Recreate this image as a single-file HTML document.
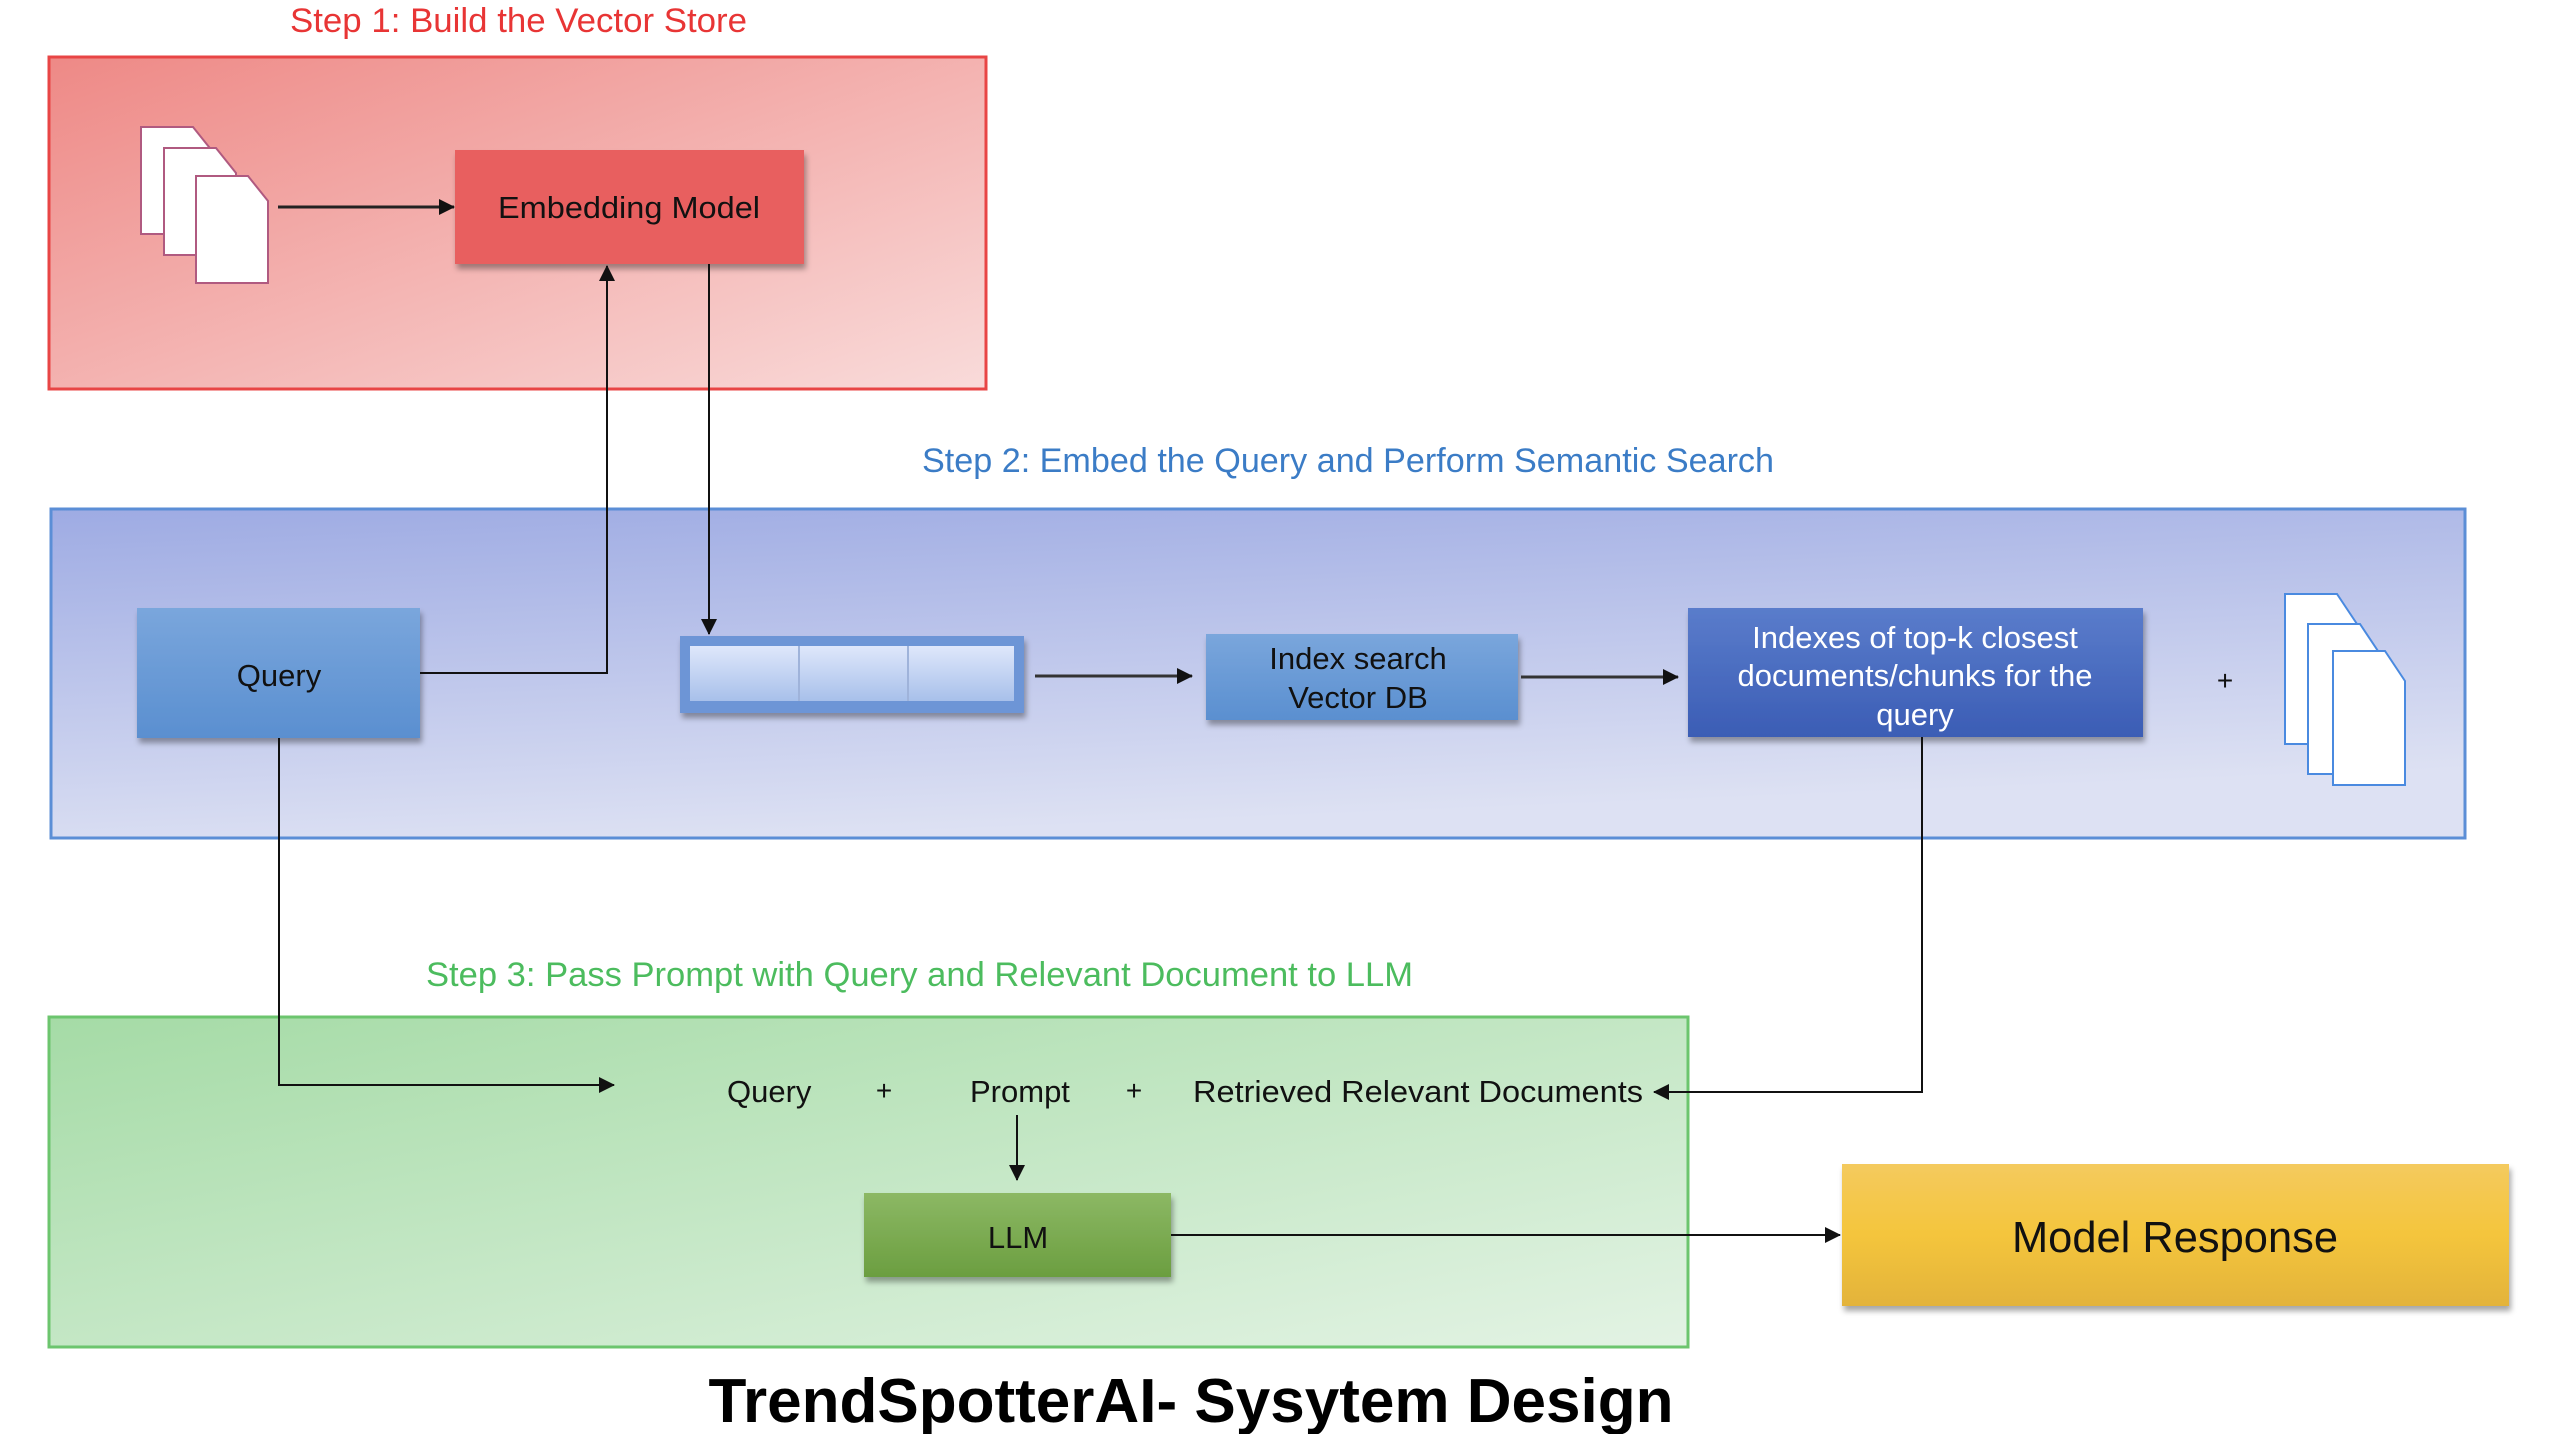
<!DOCTYPE html>
<html><head><meta charset="utf-8"><style>
html,body{margin:0;padding:0;background:#fff;}
svg{display:block;}
text{font-family:"Liberation Sans",sans-serif;}
</style></head><body>
<svg width="2560" height="1434" viewBox="0 0 2560 1434" xmlns="http://www.w3.org/2000/svg">
<defs>
<linearGradient id="gr" x1="0" y1="0" x2="1" y2="1"><stop offset="0" stop-color="#ee8986"/><stop offset="1" stop-color="#f9dbda"/></linearGradient>
<linearGradient id="gb" x1="0" y1="0" x2="0.3" y2="1"><stop offset="0" stop-color="#9eabe3"/><stop offset="1" stop-color="#dde1f3"/></linearGradient>
<linearGradient id="gg" x1="0" y1="0" x2="1" y2="1"><stop offset="0" stop-color="#a5dba6"/><stop offset="1" stop-color="#e3f3e4"/></linearGradient>
<linearGradient id="bq" x1="0" y1="0" x2="0" y2="1"><stop offset="0" stop-color="#7aa6dc"/><stop offset="1" stop-color="#5a8fd0"/></linearGradient>
<linearGradient id="bi" x1="0" y1="0" x2="0" y2="1"><stop offset="0" stop-color="#5a7ccb"/><stop offset="1" stop-color="#3b5db5"/></linearGradient>
<linearGradient id="bv" x1="0" y1="0" x2="0" y2="1"><stop offset="0" stop-color="#dfe7fb"/><stop offset="1" stop-color="#a8c0ea"/></linearGradient>
<linearGradient id="bl" x1="0" y1="0" x2="0" y2="1"><stop offset="0" stop-color="#8cb864"/><stop offset="1" stop-color="#6b9e40"/></linearGradient>
<linearGradient id="by" x1="0" y1="0" x2="0" y2="1"><stop offset="0" stop-color="#f4ca5e"/><stop offset="0.5" stop-color="#f4c53c"/><stop offset="1" stop-color="#e3b33a"/></linearGradient>
<filter id="sh" x="-10%" y="-10%" width="125%" height="130%"><feDropShadow dx="2" dy="5" stdDeviation="3" flood-color="#000" flood-opacity="0.35"/></filter>
<marker id="ar2" markerWidth="16" markerHeight="16" refX="15" refY="8" orient="auto" markerUnits="userSpaceOnUse"><path d="M0,0 L16,8 L0,16 z" fill="#111"/></marker>
</defs>

<text x="290" y="32" font-size="34" fill="#e83535" textLength="457" lengthAdjust="spacingAndGlyphs">Step 1: Build the Vector Store</text>
<rect x="49" y="57" width="937" height="332" fill="url(#gr)" stroke="#e84545" stroke-width="3"/>
<g stroke="#b05a80" stroke-width="2" fill="#fff">
<path d="M141,127 h52 l20,25 v82 h-72 z"/><path d="M164,148 h52 l20,25 v82 h-72 z"/><path d="M196,176 h52 l20,25 v82 h-72 z"/>
</g>
<rect x="455" y="150" width="349" height="114" fill="#e85e5e" filter="url(#sh)"/>
<text x="629" y="218" font-size="31" fill="#111" text-anchor="middle" textLength="262" lengthAdjust="spacingAndGlyphs">Embedding Model</text>
<line x1="278" y1="207" x2="454" y2="207" stroke="#222" stroke-width="3" marker-end="url(#ar2)"/>

<text x="922" y="472" font-size="34" fill="#3b7cc6" textLength="852" lengthAdjust="spacingAndGlyphs">Step 2: Embed the Query and Perform Semantic Search</text>
<rect x="51" y="509" width="2414" height="329" fill="url(#gb)" stroke="#5b8ed6" stroke-width="3"/>
<rect x="137" y="608" width="283" height="130" fill="url(#bq)" filter="url(#sh)"/>
<text x="279" y="686" font-size="31" fill="#111" text-anchor="middle">Query</text>
<rect x="680" y="636" width="344" height="77" fill="#6d95d6" filter="url(#sh)"/>
<rect x="690" y="646" width="324" height="55" fill="url(#bv)"/>
<line x1="799" y1="646" x2="799" y2="701" stroke="#9fb3da" stroke-width="2"/>
<line x1="908" y1="646" x2="908" y2="701" stroke="#9fb3da" stroke-width="2"/>
<rect x="1206" y="634" width="312" height="86" fill="url(#bq)" filter="url(#sh)"/>
<text x="1358" y="669" font-size="31" fill="#111" text-anchor="middle">Index search</text>
<text x="1358" y="708" font-size="31" fill="#111" text-anchor="middle">Vector DB</text>
<rect x="1688" y="608" width="455" height="129" fill="url(#bi)" filter="url(#sh)"/>
<text x="1915" y="648" font-size="31" fill="#fff" text-anchor="middle">Indexes of top-k closest</text>
<text x="1915" y="686" font-size="31" fill="#fff" text-anchor="middle">documents/chunks for the</text>
<text x="1915" y="725" font-size="31" fill="#fff" text-anchor="middle">query</text>
<text x="2225" y="690" font-size="28" fill="#111" text-anchor="middle">+</text>
<g stroke="#4a8ae0" stroke-width="2" fill="#fff">
<path d="M2285,594 h52 l20,30 v120 h-72 z"/><path d="M2308,624 h52 l20,30 v120 h-72 z"/><path d="M2333,651 h52 l20,30 v104 h-72 z"/>
</g>
<line x1="1035" y1="676" x2="1192" y2="676" stroke="#333" stroke-width="3" marker-end="url(#ar2)"/>
<line x1="1521" y1="677" x2="1678" y2="677" stroke="#333" stroke-width="3" marker-end="url(#ar2)"/>
<polyline points="420,673 607,673 607,266" fill="none" stroke="#111" stroke-width="2" marker-end="url(#ar2)"/>
<line x1="709" y1="264" x2="709" y2="634" stroke="#111" stroke-width="2" marker-end="url(#ar2)"/>

<text x="426" y="986" font-size="34" fill="#4cbc5e" textLength="987" lengthAdjust="spacingAndGlyphs">Step 3: Pass Prompt with Query and Relevant Document to LLM</text>
<rect x="49" y="1017" width="1639" height="330" fill="url(#gg)" stroke="#6cc56e" stroke-width="3"/>
<text x="727" y="1102" font-size="31" fill="#111">Query</text>
<text x="884" y="1100" font-size="28" fill="#111" text-anchor="middle">+</text>
<text x="970" y="1102" font-size="31" fill="#111">Prompt</text>
<text x="1134" y="1100" font-size="28" fill="#111" text-anchor="middle">+</text>
<text x="1193" y="1102" font-size="31" fill="#111" textLength="450" lengthAdjust="spacingAndGlyphs">Retrieved Relevant Documents</text>
<polyline points="279,738 279,1085 614,1085" fill="none" stroke="#111" stroke-width="2" marker-end="url(#ar2)"/>
<polyline points="1922,737 1922,1092 1654,1092" fill="none" stroke="#111" stroke-width="2" marker-end="url(#ar2)"/>
<line x1="1017" y1="1115" x2="1017" y2="1180" stroke="#111" stroke-width="2" marker-end="url(#ar2)"/>
<rect x="864" y="1193" width="307" height="84" fill="url(#bl)" filter="url(#sh)"/>
<text x="1018" y="1248" font-size="31" fill="#111" text-anchor="middle">LLM</text>
<line x1="1171" y1="1235" x2="1840" y2="1235" stroke="#111" stroke-width="2" marker-end="url(#ar2)"/>
<rect x="1842" y="1164" width="667" height="142" fill="url(#by)" filter="url(#sh)"/>
<text x="2175" y="1252" font-size="44" fill="#111" text-anchor="middle" textLength="326" lengthAdjust="spacingAndGlyphs">Model Response</text>

<text x="1191" y="1422" font-size="62" font-weight="bold" fill="#000" text-anchor="middle" textLength="965" lengthAdjust="spacingAndGlyphs">TrendSpotterAI- Sysytem Design</text>
</svg>
</body></html>
